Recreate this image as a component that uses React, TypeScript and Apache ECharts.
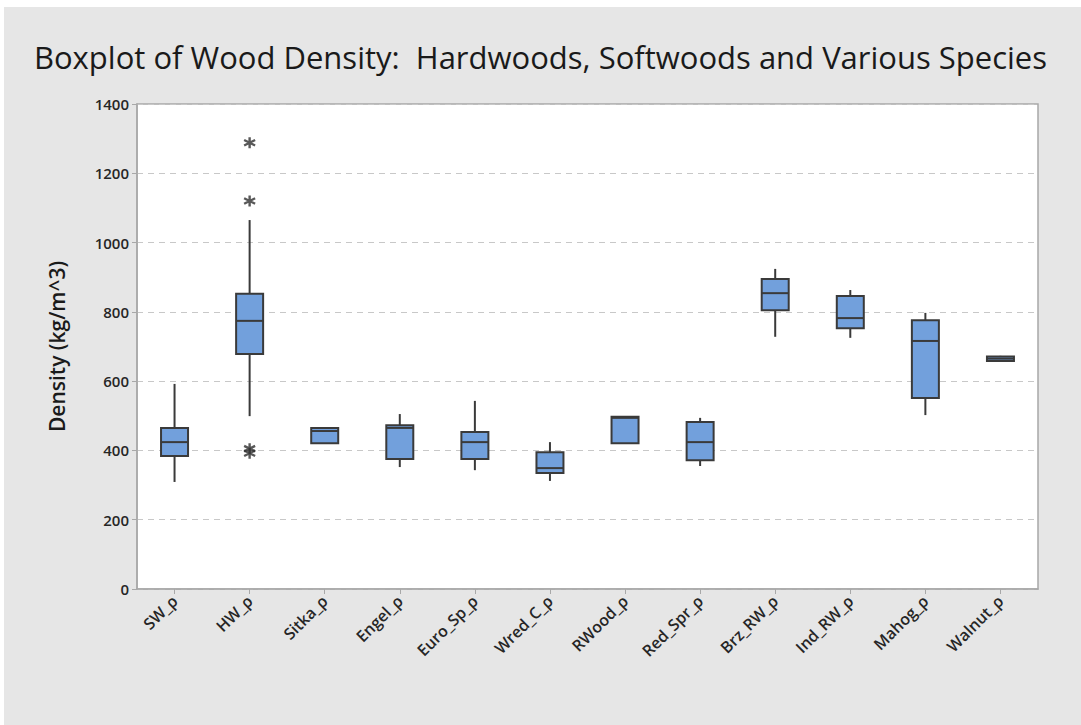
import React, { useEffect, useRef } from "react";
import * as echarts from "echarts";

// Species / column names
const categories = [
  "SW_ρ", "HW_ρ", "Sitka_ρ", "Engel_ρ", "Euro_Sp_ρ", "Wred_C_ρ",
  "RWood_ρ", "Red_Spr_ρ", "Brz_RW_ρ", "Ind_RW_ρ", "Mahog_ρ", "Walnut_ρ",
];

// Five-number summaries: [whisker low, Q1, median, Q3, whisker high]
const boxStats: number[][] = [
  [309, 384, 424, 465, 592],
  [499, 678, 774, 852, 1065],
  [421, 421, 456, 465, 465],
  [352, 375, 465, 473, 505],
  [343, 375, 424, 453, 543],
  [312, 335, 349, 395, 424],
  [421, 421, 494, 497, 497],
  [355, 372, 424, 482, 494],
  [728, 805, 854, 895, 924],
  [725, 753, 782, 846, 863],
  [502, 551, 716, 776, 797],
  [656, 658, 665, 671, 673],
];

// Outliers: [category index, density]
const outliers: number[][] = [
  [1, 1288],
  [1, 1120],
  [1, 405],
  [1, 392],
];

const yTicks = [0, 200, 400, 600, 800, 1000, 1200, 1400];

const FONT = "'Open Sans', 'Noto Sans', sans-serif";

export default function App() {
  const ref = useRef<HTMLDivElement>(null);

  useEffect(() => {
    if (!ref.current) return;
    const chart = echarts.init(ref.current, undefined, { renderer: "svg" });

    const boxData = boxStats.map((s, i) => [i, ...s]);

    chart.setOption({
      animation: false,
      backgroundColor: "#e6e6e6",
      title: {
        text: "Boxplot of Wood Density:  Hardwoods, Softwoods and Various Species",
        left: "center",
        top: 36,
        textStyle: {
          fontFamily: FONT,
          fontSize: 31,
          fontWeight: "normal",
          color: "#1a1a1a",
        },
      },
      graphic: [
        { type: "rect", shape: { x: 0, y: 0, width: 1081, height: 7 }, style: { fill: "#ffffff" } },
        { type: "rect", shape: { x: 0, y: 0, width: 4, height: 725 }, style: { fill: "#ffffff" } },
      ],
      grid: {
        left: 137,
        top: 104,
        right: 43,
        bottom: 136,
        show: true,
        backgroundColor: "#ffffff",
        borderColor: "#a8a8a8",
        borderWidth: 1.5,
      },
      xAxis: {
        type: "category",
        data: categories,
        boundaryGap: true,
        axisLine: { show: true, lineStyle: { color: "#a8a8a8", width: 1.5 } },
        axisTick: { show: true, alignWithLabel: true, length: 5, lineStyle: { color: "#a8a8a8" } },
        axisLabel: {
          rotate: 45,
          margin: 9,
          fontFamily: FONT,
          fontSize: 16,
          fontWeight: 600,
          color: "#262626",
        },
        splitLine: { show: false },
      },
      yAxis: {
        type: "value",
        min: yTicks[0],
        max: yTicks[yTicks.length - 1],
        interval: 200,
        name: "Density (kg/m^3)",
        nameLocation: "middle",
        nameGap: 70,
        nameTextStyle: {
          fontFamily: FONT,
          fontSize: 21,
          fontWeight: 600,
          color: "#1a1a1a",
        },
        axisLine: { show: true, lineStyle: { color: "#a8a8a8", width: 1.5 } },
        axisTick: { show: true, length: 5, lineStyle: { color: "#a8a8a8" } },
        axisLabel: {
          margin: 8,
          fontFamily: FONT,
          fontSize: 15,
          fontWeight: 600,
          color: "#262626",
          formatter: (v: number) => String(v),
        },
        splitLine: {
          show: true,
          lineStyle: { color: "#c8c8c8", type: [6, 5], width: 1 },
        },
      },
      series: [
        {
          type: "custom",
          data: boxData,
          encode: { x: 0, y: [1, 2, 3, 4, 5] },
          renderItem: (params: any, api: any) => {
            const idx = api.value(0);
            const lo = api.coord([idx, api.value(1)]);
            const q1 = api.coord([idx, api.value(2)]);
            const med = api.coord([idx, api.value(3)]);
            const q3 = api.coord([idx, api.value(4)]);
            const hi = api.coord([idx, api.value(5)]);
            const w = 27;
            const x = q1[0];
            const stroke = { stroke: "#3a3a3a", lineWidth: 2 };
            return {
              type: "group",
              children: [
                { type: "line", shape: { x1: x, y1: hi[1], x2: x, y2: q3[1] }, style: stroke },
                { type: "line", shape: { x1: x, y1: q1[1], x2: x, y2: lo[1] }, style: stroke },
                {
                  type: "rect",
                  shape: { x: x - w / 2, y: q3[1], width: w, height: q1[1] - q3[1] },
                  style: { fill: "#72a0dc", stroke: "#3a3a3a", lineWidth: 2 },
                },
                { type: "line", shape: { x1: x - w / 2, y1: med[1], x2: x + w / 2, y2: med[1] }, style: stroke },
              ],
            };
          },
          z: 3,
        },
        {
          type: "scatter",
          data: outliers,
          symbol: "path://M0,-5L0,5M-4.33,-2.5L4.33,2.5M-4.33,2.5L4.33,-2.5",
          symbolSize: 11,
          itemStyle: { color: "none", borderColor: "#2e2e2e", borderWidth: 2.4 },
          z: 4,
        },
      ],
    });

    return () => chart.dispose();
  }, []);

  return (
    <div
      ref={ref}
      style={{ position: "fixed", left: 0, top: 0, width: 1081, height: 725 }}
    />
  );
}
